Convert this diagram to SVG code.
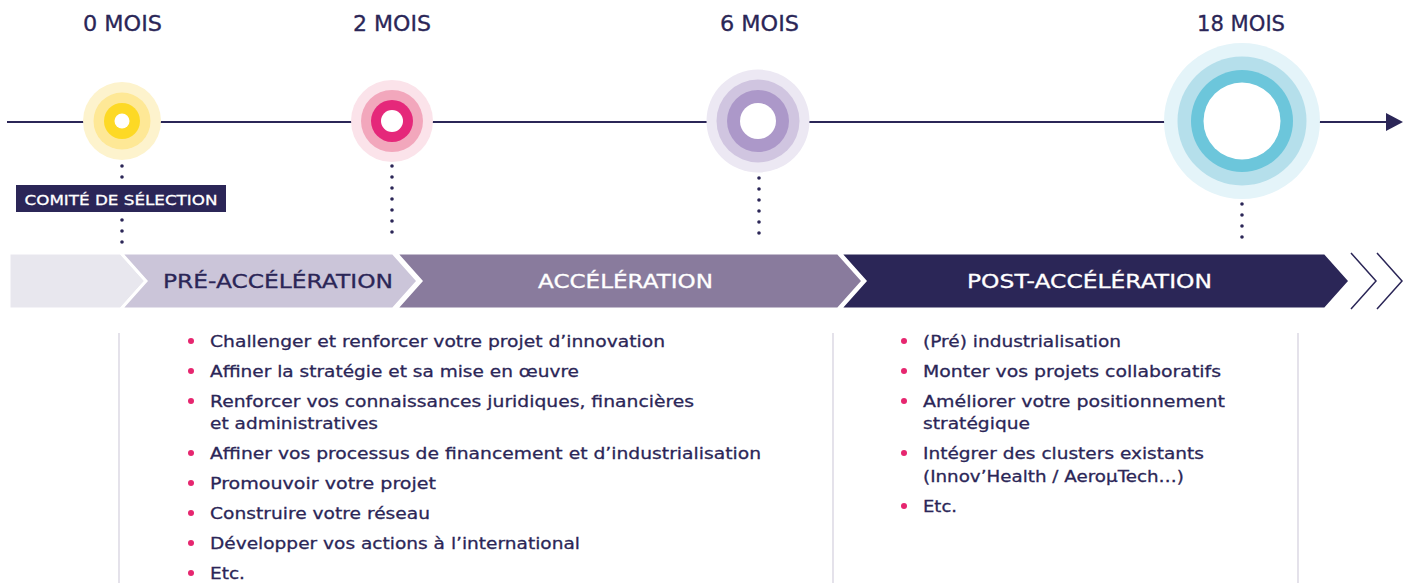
<svg xmlns="http://www.w3.org/2000/svg" width="1411" height="583" viewBox="0 0 1411 583">
<style>
text{font-family:"DejaVu Sans","Liberation Sans",sans-serif;fill:#2b2657;stroke:#2b2657;stroke-width:0.3}
.m{font-size:21.5px;text-anchor:middle}
.b{font-size:16.5px}
.band{font-size:19.5px;text-anchor:middle}
.w{fill:#fff;stroke:#fff}
.dot{stroke:#2b2657;stroke-width:3.6;stroke-linecap:round;stroke-dasharray:0 11;fill:none}
.sep{stroke:#d3cfdd;stroke-width:1.2}
.bul{fill:#e6266f}
.seg{stroke:#fff;stroke-width:3;stroke-linejoin:miter}
</style>
<rect width="1411" height="583" fill="#fff"/>
<g id="connectors">
<line x1="7" y1="122" x2="1390" y2="122" stroke="#2b2657" stroke-width="2"/>
<polygon points="1386,113 1403,122 1386,131" fill="#2b2657"/>
<line class="dot" x1="122" y1="155" x2="122" y2="178"/>
<line class="dot" x1="122" y1="220" x2="122" y2="243"/>
<line class="dot" x1="392" y1="155" x2="392" y2="243"/>
<line class="dot" x1="759" y1="167" x2="759" y2="244"/>
<line class="dot" x1="1242" y1="193" x2="1242" y2="243"/>
</g>
<g id="m0">
<text class="m" x="122.5" y="31" textLength="79" lengthAdjust="spacingAndGlyphs">0 MOIS</text>
<circle cx="122" cy="121" r="39" fill="#fdf3cd"/>
<circle cx="122" cy="121" r="28.5" fill="#fee896"/>
<circle cx="122" cy="121" r="18" fill="#fdd925"/>
<circle cx="122" cy="121" r="7.5" fill="#fff"/>
</g>
<g id="m2">
<text class="m" x="392" y="31" textLength="78" lengthAdjust="spacingAndGlyphs">2 MOIS</text>
<circle cx="392" cy="121" r="41" fill="#fbe3ea"/>
<circle cx="392" cy="121" r="31" fill="#f2a7bc"/>
<circle cx="392" cy="121" r="21" fill="#e5287a"/>
<circle cx="392" cy="121" r="11" fill="#fff"/>
</g>
<g id="m6">
<text class="m" x="759.5" y="31" textLength="79" lengthAdjust="spacingAndGlyphs">6 MOIS</text>
<circle cx="758" cy="121" r="51.5" fill="#ece8f3"/>
<circle cx="758" cy="121" r="41.5" fill="#d0c5e0"/>
<circle cx="758" cy="121" r="31" fill="#ac98c9"/>
<circle cx="758" cy="121" r="18" fill="#fff"/>
</g>
<g id="m18">
<text class="m" x="1241" y="31" textLength="88" lengthAdjust="spacingAndGlyphs">18 MOIS</text>
<circle cx="1242" cy="121" r="78" fill="#e4f4f9"/>
<circle cx="1242" cy="121" r="64.5" fill="#b5dfeb"/>
<circle cx="1242" cy="121" r="51" fill="#6cc6db"/>
<circle cx="1242" cy="121" r="38.5" fill="#fff"/>
</g>
<g id="comite">
<rect x="16" y="185" width="210" height="27" fill="#2b2657"/>
<text class="w" x="121" y="204.5" text-anchor="middle" font-size="14.5" textLength="193" lengthAdjust="spacingAndGlyphs">COMITÉ DE SÉLECTION</text>
</g>
<g id="band-start">
<polygon class="seg" points="9,253 121,253 146,281 121,309 9,309" fill="#e8e7ee"/>
</g>
<g id="pre">
<polygon class="seg" points="121,253 393,253 418,281 393,309 121,309 146,281" fill="#cbc5d9"/>
<text class="band" x="278" y="288" textLength="230" lengthAdjust="spacingAndGlyphs">PRÉ-ACCÉLÉRATION</text>
</g>
<g id="accel">
<polygon class="seg" points="396,253 838,253 863,281 838,309 396,309 421,281" fill="#897b9d"/>
<text class="band w" x="625.5" y="288" textLength="175" lengthAdjust="spacingAndGlyphs">ACCÉLÉRATION</text>
</g>
<g id="post">
<polygon class="seg" points="840,253 1325,253 1350,281 1325,309 840,309 865,281" fill="#2b2657"/>
<text class="band w" x="1089.5" y="288" textLength="245" lengthAdjust="spacingAndGlyphs">POST-ACCÉLÉRATION</text>
<polyline points="1351,253 1376,281 1351,309" fill="none" stroke="#2b2657" stroke-width="1.5"/>
<polyline points="1377,253 1402,281 1377,309" fill="none" stroke="#2b2657" stroke-width="1.5"/>
</g>
<g id="separators">
<line class="sep" x1="119" y1="333" x2="119" y2="583"/>
<line class="sep" x1="833" y1="333" x2="833" y2="583"/>
<line class="sep" x1="1298" y1="333" x2="1298" y2="583"/>
</g>
<g id="list-left">
<circle class="bul" cx="191" cy="341" r="3"/>
<text class="b" x="210" y="347" textLength="455" lengthAdjust="spacingAndGlyphs">Challenger et renforcer votre projet d’innovation</text>
<circle class="bul" cx="191" cy="371" r="3"/>
<text class="b" x="210" y="377" textLength="369" lengthAdjust="spacingAndGlyphs">Affiner la stratégie et sa mise en œuvre</text>
<circle class="bul" cx="191" cy="401" r="3"/>
<text class="b" x="210" y="407" textLength="484" lengthAdjust="spacingAndGlyphs">Renforcer vos connaissances juridiques, financières</text>
<text class="b" x="210" y="429" textLength="168" lengthAdjust="spacingAndGlyphs">et administratives</text>
<circle class="bul" cx="191" cy="453" r="3"/>
<text class="b" x="210" y="459" textLength="551" lengthAdjust="spacingAndGlyphs">Affiner vos processus de financement et d’industrialisation</text>
<circle class="bul" cx="191" cy="483" r="3"/>
<text class="b" x="210" y="489" textLength="226" lengthAdjust="spacingAndGlyphs">Promouvoir votre projet</text>
<circle class="bul" cx="191" cy="513" r="3"/>
<text class="b" x="210" y="519" textLength="220" lengthAdjust="spacingAndGlyphs">Construire votre réseau</text>
<circle class="bul" cx="191" cy="543" r="3"/>
<text class="b" x="210" y="549" textLength="370" lengthAdjust="spacingAndGlyphs">Développer vos actions à l’international</text>
<circle class="bul" cx="191" cy="573" r="3"/>
<text class="b" x="210" y="579" textLength="35" lengthAdjust="spacingAndGlyphs">Etc.</text>
</g>
<g id="list-right">
<circle class="bul" cx="904" cy="341" r="3"/>
<text class="b" x="923" y="347" textLength="198" lengthAdjust="spacingAndGlyphs">(Pré) industrialisation</text>
<circle class="bul" cx="904" cy="371" r="3"/>
<text class="b" x="923" y="377" textLength="298" lengthAdjust="spacingAndGlyphs">Monter vos projets collaboratifs</text>
<circle class="bul" cx="904" cy="401" r="3"/>
<text class="b" x="923" y="407" textLength="302" lengthAdjust="spacingAndGlyphs">Améliorer votre positionnement</text>
<text class="b" x="923" y="429" textLength="107" lengthAdjust="spacingAndGlyphs">stratégique</text>
<circle class="bul" cx="904" cy="453" r="3"/>
<text class="b" x="923" y="459" textLength="281" lengthAdjust="spacingAndGlyphs">Intégrer des clusters existants</text>
<text class="b" x="923" y="482" textLength="261" lengthAdjust="spacingAndGlyphs">(Innov’Health / AeroµTech…)</text>
<circle class="bul" cx="904" cy="506" r="3"/>
<text class="b" x="923" y="512" textLength="34" lengthAdjust="spacingAndGlyphs">Etc.</text>
</g>
</svg>
